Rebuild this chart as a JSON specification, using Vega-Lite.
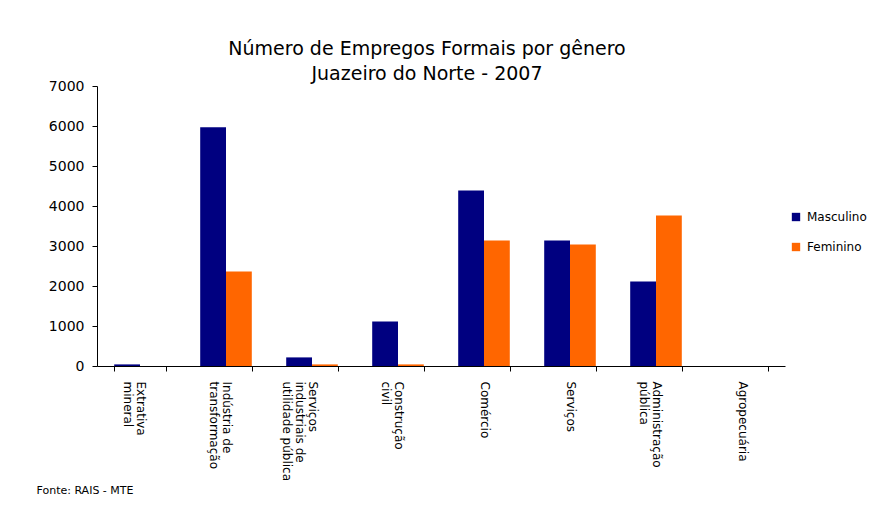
{
  "$schema": "https://vega.github.io/schema/vega-lite/v6.json",
  "width": 688,
  "height": 280,
  "autosize": "none",
  "padding": {"left": 97, "top": 86, "right": 90, "bottom": 161},
  "background": "white",
  "title": {
    "text": ["Número de Empregos Formais por gênero", "Juazeiro do Norte - 2007"],
    "font": "DejaVu Sans",
    "fontSize": 19,
    "fontWeight": "normal",
    "color": "#000000",
    "lineHeight": 25,
    "anchor": "middle",
    "dx": -14,
    "offset": -5
  },
  "data": {
    "values": [
      {"setor": "Extrativa mineral", "genero": "Masculino", "empregos": 40},
      {"setor": "Extrativa mineral", "genero": "Feminino", "empregos": 0},
      {"setor": "Indústria de transformação", "genero": "Masculino", "empregos": 5970},
      {"setor": "Indústria de transformação", "genero": "Feminino", "empregos": 2360},
      {"setor": "Serviços industriais de utilidade pública", "genero": "Masculino", "empregos": 215},
      {"setor": "Serviços industriais de utilidade pública", "genero": "Feminino", "empregos": 40},
      {"setor": "Construção civil", "genero": "Masculino", "empregos": 1115},
      {"setor": "Construção civil", "genero": "Feminino", "empregos": 40},
      {"setor": "Comércio", "genero": "Masculino", "empregos": 4390},
      {"setor": "Comércio", "genero": "Feminino", "empregos": 3140},
      {"setor": "Serviços", "genero": "Masculino", "empregos": 3140},
      {"setor": "Serviços", "genero": "Feminino", "empregos": 3040},
      {"setor": "Administração pública", "genero": "Masculino", "empregos": 2115},
      {"setor": "Administração pública", "genero": "Feminino", "empregos": 3765},
      {"setor": "Agropecuária", "genero": "Masculino", "empregos": 0},
      {"setor": "Agropecuária", "genero": "Feminino", "empregos": 0}
    ]
  },
  "mark": {"type": "bar"},
  "encoding": {
    "x": {
      "field": "setor",
      "type": "nominal",
      "sort": null,
      "scale": {"paddingInner": 0.4, "paddingOuter": 0.2},
      "axis": {
        "title": "Fonte: RAIS - MTE",
        "titleFont": "DejaVu Sans",
        "titleFontSize": 11,
        "titleFontWeight": "normal",
        "titleColor": "#000000",
        "titleAnchor": "start",
        "titleAlign": "left",
        "titleBaseline": "middle",
        "titleX": -61,
        "titleY": 124,
        "labelAngle": 90,
        "labelAlign": "left",
        "labelBaseline": "middle",
        "labelFont": "DejaVu Sans",
        "labelFontSize": 12,
        "labelColor": "#000000",
        "labelPadding": 10,
        "labelLineHeight": 13,
        "labelOverlap": false,
        "labelLimit": 200,
        "labelExpr": "({'Extrativa mineral': ['Extrativa', 'mineral'], 'Indústria de transformação': ['Indústria de', 'transformação'], 'Serviços industriais de utilidade pública': ['Serviços', 'industriais de', 'utilidade pública'], 'Construção civil': ['Construção', 'civil'], 'Comércio': 'Comércio', 'Serviços': 'Serviços', 'Administração pública': ['Administração', 'pública'], 'Agropecuária': 'Agropecuária'})[datum.label]",
        "tickBand": "extent",
        "tickSize": 5,
        "tickColor": "#000000",
        "domainColor": "#000000"
      }
    },
    "xOffset": {"field": "genero", "type": "nominal", "sort": ["Masculino", "Feminino"], "scale": {"paddingInner": 0, "paddingOuter": 0}},
    "y": {
      "field": "empregos",
      "type": "quantitative",
      "scale": {"domain": [0, 7000], "nice": false},
      "axis": {
        "title": null,
        "values": [0, 1000, 2000, 3000, 4000, 5000, 6000, 7000],
        "format": "d",
        "grid": false,
        "labelFont": "DejaVu Sans",
        "labelFontSize": 14,
        "labelColor": "#000000",
        "labelPadding": 8,
        "tickSize": 5,
        "tickColor": "#000000",
        "domainColor": "#000000"
      }
    },
    "color": {
      "field": "genero",
      "type": "nominal",
      "scale": {"domain": ["Masculino", "Feminino"], "range": ["#000080", "#FF6600"]},
      "legend": {
        "title": null,
        "orient": "none",
        "legendX": 693,
        "legendY": 125,
        "symbolType": "square",
        "symbolSize": 70,
        "symbolStrokeWidth": 0,
        "labelFont": "DejaVu Sans",
        "labelFontSize": 12,
        "labelColor": "#000000",
        "rowPadding": 18,
        "labelOffset": 5
      }
    }
  },
  "config": {
    "view": {"stroke": null},
    "axis": {"domainWidth": 1, "tickWidth": 1}
  }
}
